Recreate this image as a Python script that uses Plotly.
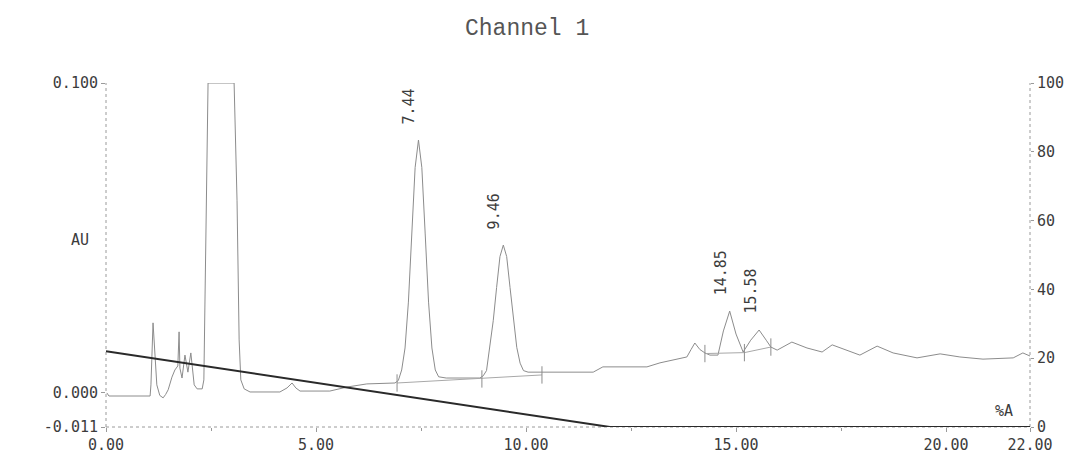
import plotly.graph_objects as go

# ---- data ----
time_min = [0.02, 0.07, 1.05, 1.07, 1.12, 1.17, 1.21, 1.28, 1.36, 1.42, 1.48, 1.57, 1.64, 1.71, 1.74,
            1.76, 1.81, 1.88, 1.95, 2.02, 2.10, 2.17, 2.29, 2.33, 2.38, 2.43, 3.05, 3.12, 3.17, 3.21,
            3.29, 3.43, 4.14, 4.31, 4.43, 4.52, 4.62, 5.33, 5.74, 6.21, 6.88, 6.96, 7.04, 7.12, 7.20,
            7.28, 7.36, 7.44, 7.52, 7.60, 7.68, 7.76, 7.84, 7.92, 8.10, 8.90, 8.98, 9.06, 9.14, 9.22,
            9.30, 9.38, 9.46, 9.54, 9.62, 9.70, 9.78, 9.86, 9.94, 10.05, 11.60, 11.83, 12.88, 13.19,
            13.50, 13.83, 13.93, 14.02, 14.14, 14.26, 14.38, 14.57, 14.70, 14.85, 15.00, 15.17, 15.35,
            15.55, 15.72, 15.83, 15.98, 16.33, 16.69, 17.05, 17.29, 17.64, 17.95, 18.36, 18.74, 19.31,
            19.86, 20.33, 20.88, 21.60, 21.83, 22.00]
absorbance_au = [0.0000, -0.0010, -0.0010, 0.0026, 0.0226, 0.0106, 0.0026, -0.0008, -0.0016, -0.0005,
                 0.0010, 0.0051, 0.0074, 0.0087, 0.0197, 0.0080, 0.0048, 0.0122, 0.0067, 0.0129,
                 0.0026, 0.0013, 0.0013, 0.0042, 0.0620, 0.1000, 0.1000, 0.0620, 0.0171, 0.0042,
                 0.0013, 0.0003, 0.0003, 0.0016, 0.0032, 0.0016, 0.0006, 0.0006, 0.0019, 0.0029,
                 0.0032, 0.0040, 0.0074, 0.0145, 0.0293, 0.0513, 0.0727, 0.0816, 0.0727, 0.0513,
                 0.0293, 0.0145, 0.0074, 0.0052, 0.0048, 0.0048, 0.0055, 0.0072, 0.0147, 0.0233,
                 0.0340, 0.0440, 0.0477, 0.0440, 0.0340, 0.0233, 0.0147, 0.0096, 0.0072, 0.0067,
                 0.0067, 0.0084, 0.0084, 0.0097, 0.0106, 0.0116, 0.0140, 0.0161, 0.0140, 0.0129,
                 0.0122, 0.0122, 0.0200, 0.0264, 0.0190, 0.0132, 0.0170, 0.0203, 0.0170, 0.0148,
                 0.0138, 0.0164, 0.0145, 0.0132, 0.0155, 0.0138, 0.0122, 0.0151, 0.0129, 0.0113,
                 0.0126, 0.0116, 0.0109, 0.0113, 0.0129, 0.0119]

gradient_time = [0.0, 12.0, 22.0]
gradient_pct_a = [22.0, 0.0, 0.0]

peak_labels = ["7.44", "9.46", "14.85", "15.58"]
peak_times = [7.44, 9.46, 14.85, 15.55]
peak_apex_au = [0.0816, 0.0477, 0.0264, 0.0203]

baseline1_time = [6.93, 10.38]
baseline1_au = [0.0032, 0.0058]
baseline2_time = [14.26, 15.20, 15.83]
baseline2_au = [0.0127, 0.0130, 0.0148]
event_times = [6.93, 8.95, 10.38, 14.26, 15.20, 15.83]
event_au = [0.0032, 0.0045, 0.0058, 0.0127, 0.0130, 0.0148]

x_tick_vals = [0, 5, 10, 15, 20, 22]
x_tick_text = ["0.00", "5.00", "10.00", "15.00", "20.00", "22.00"]
y_tick_vals = [-0.011, 0.0, 0.1]
y_tick_text = ["-0.011", "0.000", "0.100"]
y2_tick_vals = [0, 20, 40, 60, 80, 100]

# ---- figure ----
TRACE = "#8c8c8c"
TXT = "#3c3c3c"
MONO = "DejaVu Sans Mono"

fig = go.Figure()

fig.add_trace(go.Scatter(x=time_min, y=absorbance_au, mode="lines",
                         line=dict(color=TRACE, width=1), hoverinfo="skip"))

fig.add_trace(go.Scatter(x=baseline1_time, y=baseline1_au, mode="lines",
                         line=dict(color="#a8a8a8", width=1), hoverinfo="skip"))
fig.add_trace(go.Scatter(x=baseline2_time, y=baseline2_au, mode="lines",
                         line=dict(color="#a8a8a8", width=1), hoverinfo="skip"))

ev_x, ev_y = [], []
for t, v in zip(event_times, event_au):
    ev_x += [t, t, None]
    ev_y += [v - 0.0028, v + 0.0028, None]
fig.add_trace(go.Scatter(x=ev_x, y=ev_y, mode="lines",
                         line=dict(color="#8c8c8c", width=1), hoverinfo="skip"))

fig.add_trace(go.Scatter(x=gradient_time, y=gradient_pct_a, mode="lines", yaxis="y2",
                         line=dict(color="#2a2a2a", width=2), hoverinfo="skip"))

for lbl, t, v in zip(peak_labels, peak_times, peak_apex_au):
    fig.add_annotation(x=t, y=v, text=lbl, showarrow=False, textangle=-90,
                       xanchor="center", yanchor="bottom", xshift=-9, yshift=14,
                       font=dict(family=MONO, size=15, color=TXT))

fig.add_annotation(xref="paper", yref="paper", x=-0.016, y=0.545, text="AU", showarrow=False,
                   xanchor="right", yanchor="middle", font=dict(family=MONO, size=15, color=TXT))
fig.add_annotation(xref="paper", yref="paper", x=0.984, y=0.0, yshift=5, text="%A", showarrow=False,
                   xanchor="right", yanchor="bottom", font=dict(family=MONO, size=15, color=TXT))

# dotted axis frame (left, right, bottom)
for x0, y0, x1, y1 in [(0, 0, 0, 1), (1, 0, 1, 1), (0, 0, 1, 0)]:
    fig.add_shape(type="line", xref="paper", yref="paper", x0=x0, y0=y0, x1=x1, y1=y1,
                  line=dict(color="#9a9a9a", width=1, dash="dot"), layer="below")

fig.update_layout(
    width=1078, height=454,
    margin=dict(l=106, r=48, t=83, b=27, autoexpand=False),
    paper_bgcolor="white", plot_bgcolor="white",
    showlegend=False,
    title=dict(text="Channel 1", x=0.489, xref="container", xanchor="center",
               y=0.94, yref="container", yanchor="middle", automargin=False,
               font=dict(family="Liberation Mono", size=23, color="#555555")),
    xaxis=dict(range=[0, 22], tickvals=x_tick_vals, ticktext=x_tick_text, automargin=False,
               showgrid=False, zeroline=False, showline=False,
               ticks="outside", ticklen=4, tickcolor="#9a9a9a",
               minor=dict(tickvals=[2.5, 7.5, 12.5, 17.5], ticks="outside", ticklen=3,
                          tickcolor="#9a9a9a"),
               tickfont=dict(family=MONO, size=15, color=TXT)),
    yaxis=dict(range=[-0.011, 0.100], tickvals=y_tick_vals, ticktext=y_tick_text, automargin=False,
               showgrid=False, zeroline=False, showline=False,
               ticks="outside", ticklen=4, tickcolor="#9a9a9a",
               tickfont=dict(family=MONO, size=15, color=TXT)),
    yaxis2=dict(range=[0, 100], tickvals=y2_tick_vals, overlaying="y", side="right", automargin=False,
                showgrid=False, zeroline=False, showline=False,
                ticks="outside", ticklen=3, tickcolor="#9a9a9a",
                tickfont=dict(family=MONO, size=15, color=TXT)),
)

fig.write_html("out.html", config={"displayModeBar": False},
               post_script="document.body.style.margin='0';document.body.style.overflow='hidden';")
